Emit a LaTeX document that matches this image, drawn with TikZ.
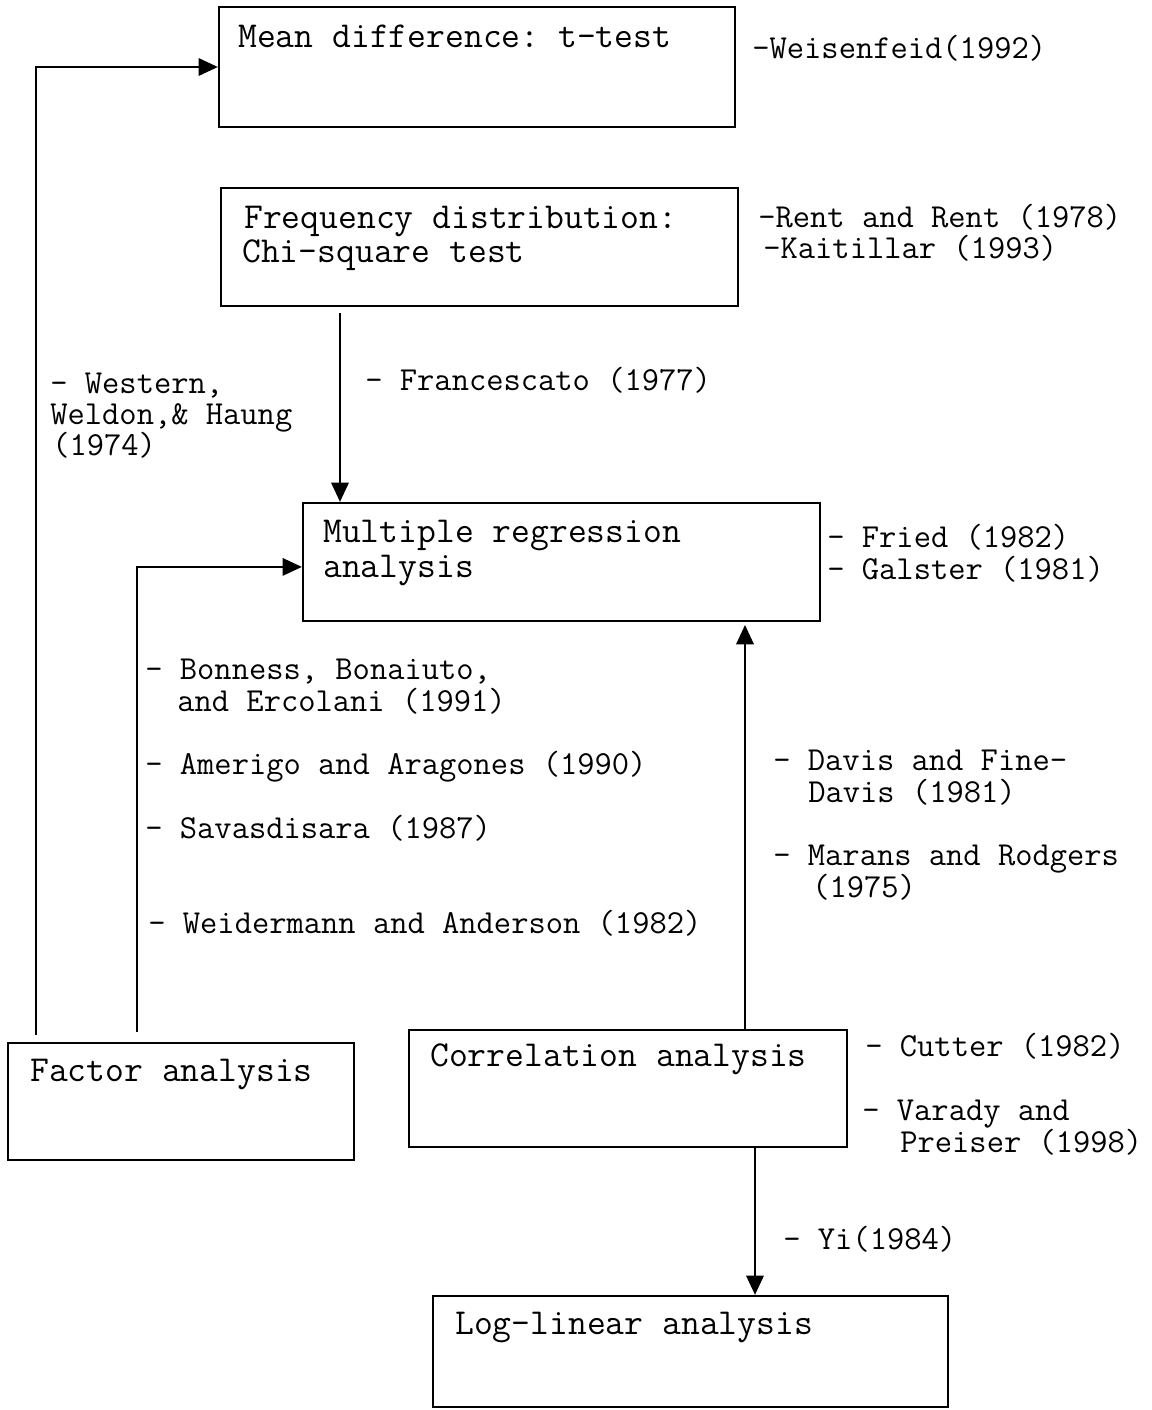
\documentclass[tikz,border=0pt]{standalone}
\usepackage{fontspec}
\usetikzlibrary{arrows.meta,fit}
\frenchspacing

\begin{document}
\begin{tikzpicture}[x=0.02cm,y=-0.02cm,
    box/.style={draw,line width=1.3pt,inner sep=0pt},
    boxtext/.style={anchor=base west,inner sep=0pt,font=\ttfamily\fontsize{20.8}{22}\selectfont},
    ref/.style={anchor=base west,inner sep=0pt,font=\ttfamily\fontsize{19.1}{20}\selectfont},
    arr/.style={line width=1pt,-{Triangle[length=11pt,width=10pt]}}]
\useasboundingbox (0,0) rectangle (1152,1410);

% boxes
\node[box,fit={(219,7) (735,127)}] (mean) {};
\node[box,fit={(221,188) (738,306)}] (fd) {};
\node[box,fit={(303,503) (820,621)}] (mr) {};
\node[box,fit={(8,1043) (354,1160)}] (fa) {};
\node[box,fit={(409,1030) (847,1147)}] (ca) {};
\node[box,fit={(433,1296) (948,1407)}] (ll) {};

% box texts
\node[boxtext] (meant) at (238,47) {Mean difference: t-test};
\node[boxtext] (fdt1) at (244,228) {Frequency distribution:};
\node[boxtext] (fdt2) at (242,262) {Chi-square test};
\node[boxtext] (mrt1) at (323,542) {Multiple regression};
\node[boxtext] (mrt2) at (323,577) {analysis};
\node[boxtext] (fat) at (30,1081) {Factor analysis};
\node[boxtext] (cat) at (430,1066) {Correlation analysis};
\node[boxtext] (llt) at (455,1334) {Log-linear analysis};

% references
\node[ref] (weis) at (752,58) {-Weisenfeid(1992)};
\node[ref] (rent) at (758,227) {-Rent and Rent (1978)};
\node[ref] (kait) at (763,258) {-Kaitillar (1993)};
\node[ref] (west1) at (50,393) {- Western,};
\node[ref] (west2) at (50,424) {Weldon,\& Haung};
\node[ref] (west3) at (52,455) {(1974)};
\node[ref] (fran) at (365,390) {- Francescato (1977)};
\node[ref] (fried) at (827,547) {- Fried (1982)};
\node[ref] (gal) at (827,579) {- Galster (1981)};
\node[ref] (bon1) at (145,679) {- Bonness, Bonaiuto,};
\node[ref] (bon2) at (177,711) {and Ercolani (1991)};
\node[ref] (ame) at (145,774) {- Amerigo and Aragones (1990)};
\node[ref] (sav) at (145,838) {- Savasdisara (1987)};
\node[ref] (weid) at (148,933) {- Weidermann and Anderson (1982)};
\node[ref] (dav1) at (773,770) {- Davis and Fine-};
\node[ref] (dav2) at (808,802) {Davis (1981)};
\node[ref] (mar1) at (773,865) {- Marans and Rodgers};
\node[ref] (mar2) at (812,897) {(1975)};
\node[ref] (cut) at (865,1056) {- Cutter (1982)};
\node[ref] (var1) at (862,1120) {- Varady and};
\node[ref] (var2) at (900,1152) {Preiser (1998)};
\node[ref] (yi) at (783,1249) {- Yi(1984)};

% connectors
\coordinate (faleft) at (36,1035);
\coordinate (faright) at (137,1032);
\coordinate (fdbot) at (340,313);
\coordinate (mrgap) at (745,625);
\coordinate (llx) at (755,0);
\draw[arr] (faleft) |- (mean.west);
\draw[arr] (faright) |- ([yshift=-2.8pt]mr.west);
\draw[arr] (fdbot) -- (fdbot |- mr.north);
\draw[arr] (ca.north -| mrgap) -- (mrgap);
\draw[arr] (ca.south -| llx) -- (ll.north -| llx);
\end{tikzpicture}
\end{document}
